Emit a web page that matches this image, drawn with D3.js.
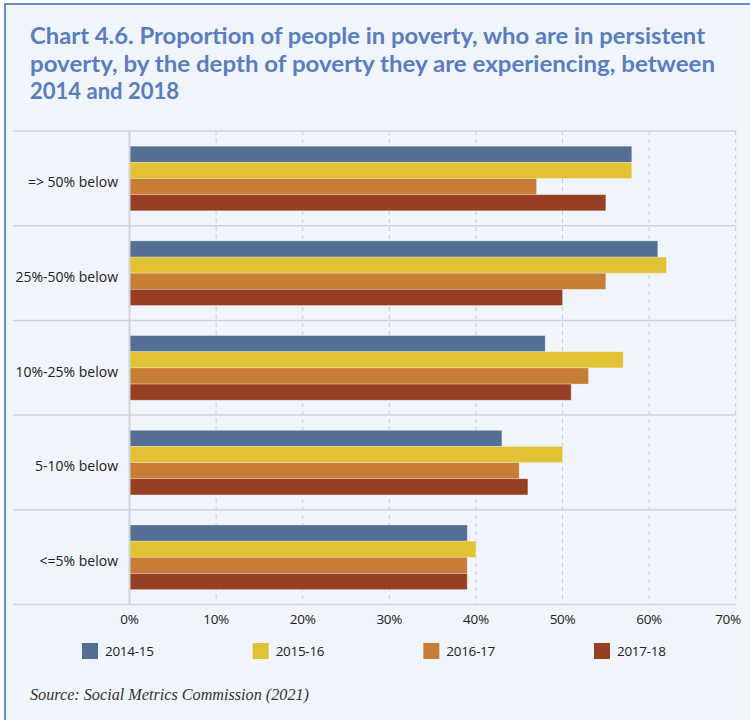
<!DOCTYPE html>
<html>
<head>
<meta charset="utf-8">
<script src="https://cdn.jsdelivr.net/npm/d3@7"></script>
<style>
  html, body { margin: 0; padding: 0; background: #ffffff; }
  svg { display: block; }
</style>
</head>
<body>
<svg id="chart" width="750" height="720"></svg>
<script>
// Depth-of-poverty groups, top to bottom
const categories = ["=> 50% below", "25%-50% below", "10%-25% below", "5-10% below", "<=5% below"];
const seriesNames = ["2014-15", "2015-16", "2016-17", "2017-18"];
// Share of people in persistent poverty (%), one array per year, in category order
const values2014 = [58, 61, 48, 43, 39];
const values2015 = [58, 62, 57, 50, 40];
const values2016 = [47, 55, 53, 45, 39];
const values2017 = [55, 50, 51, 46, 39];
const seriesValues = [values2014, values2015, values2016, values2017];
const seriesColors = ["#546e94", "#e2c235", "#c67d36", "#973f24"];
const tickValues = [0, 10, 20, 30, 40, 50, 60, 70];
const titleLines = [
  "Chart 4.6. Proportion of people in poverty, who are in persistent",
  "poverty, by the depth of poverty they are experiencing, between",
  "2014 and 2018"
];
const sourceText = "Source: Social Metrics Commission (2021)";

const svg = d3.select("#chart");

// Panel background and frame
svg.append("rect").attr("x", 4).attr("y", 3).attr("width", 746).attr("height", 717).attr("fill", "#f0f4fb");
svg.append("line").attr("x1", 5).attr("x2", 5).attr("y1", 3).attr("y2", 720)
  .attr("stroke", "#6b8cc9").attr("stroke-width", 2);
svg.append("line").attr("x1", 4).attr("x2", 750).attr("y1", 4).attr("y2", 4)
  .attr("stroke", "#6b8cc9").attr("stroke-width", 2);

// Title
const titleWidths = [675, 685, 149];
const titleBase = [44, 71.5, 99];
titleLines.forEach((t, i) => {
  svg.append("text")
    .attr("x", 30).attr("y", titleBase[i])
    .attr("font-family", "Lato, 'Open Sans', sans-serif")
    .attr("font-weight", 700)
    .attr("font-size", 23)
    .attr("fill", "#5a7dbf")
    .attr("textLength", titleWidths[i])
    .attr("lengthAdjust", "spacingAndGlyphs")
    .text(t);
});

// Scales
const x = d3.scaleLinear().domain([0, 70]).range([129.5, 735.7]);
const y = d3.scaleBand().domain(categories).range([131, 604.5]).padding(0);
const ySub = d3.scaleBand().domain(seriesNames).range([15.2, 79.8]).padding(0);

const plotTop = y.range()[0], plotBottom = y.range()[1];

// Dashed vertical gridlines
svg.append("g").selectAll("line")
  .data(tickValues.slice(1))
  .join("line")
  .attr("x1", d => x(d)).attr("x2", d => x(d))
  .attr("y1", plotTop).attr("y2", plotBottom)
  .attr("stroke", "#c9cbd0").attr("stroke-width", 1)
  .attr("stroke-dasharray", "4,4");

// Category separator lines (top, between groups, bottom)
const sepYs = categories.map(c => y(c)).concat([plotBottom]);
svg.append("g").selectAll("line")
  .data(sepYs)
  .join("line")
  .attr("x1", 13).attr("x2", x(70))
  .attr("y1", d => d).attr("y2", d => d)
  .attr("stroke", "#d2d3d6").attr("stroke-width", 1.5);

// Bars
const rows = [];
categories.forEach((c, ci) => {
  seriesNames.forEach((s, si) => {
    rows.push({ cat: c, series: s, value: seriesValues[si][ci], color: seriesColors[si] });
  });
});
svg.append("g").selectAll("rect")
  .data(rows)
  .join("rect")
  .attr("x", x(0))
  .attr("y", d => y(d.cat) + ySub(d.series))
  .attr("width", d => x(d.value) - x(0))
  .attr("height", ySub.bandwidth())
  .attr("fill", d => d.color)
  .attr("stroke", "rgba(255,255,255,0.35)")
  .attr("stroke-width", 0.8);

// Zero axis line
svg.append("line")
  .attr("x1", x(0)).attr("x2", x(0))
  .attr("y1", plotTop).attr("y2", plotBottom)
  .attr("stroke", "#d2d3d6").attr("stroke-width", 2);

// Category labels
svg.append("g").selectAll("text")
  .data(categories)
  .join("text")
  .attr("x", 118)
  .attr("y", d => y(d) + y.bandwidth() / 2 + 9)
  .attr("text-anchor", "end")
  .attr("font-family", "'Open Sans', 'Noto Sans', sans-serif")
  .attr("font-size", 14)
  .attr("fill", "#222")
  .text(d => d);

// Tick labels
svg.append("g").selectAll("text")
  .data(tickValues)
  .join("text")
  .attr("x", d => Math.min(x(d), 728))
  .attr("y", 624)
  .attr("text-anchor", "middle")
  .attr("font-family", "'Open Sans', 'Noto Sans', sans-serif")
  .attr("font-size", 13.5)
  .attr("letter-spacing", -0.3)
  .attr("fill", "#222")
  .text(d => d + "%");

// Legend
const legendX = d3.scaleLinear().domain([0, 3]).range([82, 594]);
const legend = svg.append("g").selectAll("g")
  .data(seriesNames)
  .join("g")
  .attr("transform", (d, i) => `translate(${legendX(i)},643)`);
legend.append("rect")
  .attr("width", 16).attr("height", 16)
  .attr("fill", (d, i) => seriesColors[i]);
legend.append("text")
  .attr("x", 23).attr("y", 13)
  .attr("font-family", "'Open Sans', 'Noto Sans', sans-serif")
  .attr("font-size", 13.5)
  .attr("letter-spacing", -0.3)
  .attr("fill", "#222")
  .text(d => d);

// Source note
svg.append("text")
  .attr("x", 30).attr("y", 700)
  .attr("font-family", "'Liberation Serif', 'DejaVu Serif', serif")
  .attr("font-style", "italic")
  .attr("font-size", 16)
  .attr("fill", "#333")
  .attr("textLength", 279)
  .attr("lengthAdjust", "spacingAndGlyphs")
  .text(sourceText);
</script>
</body>
</html>
